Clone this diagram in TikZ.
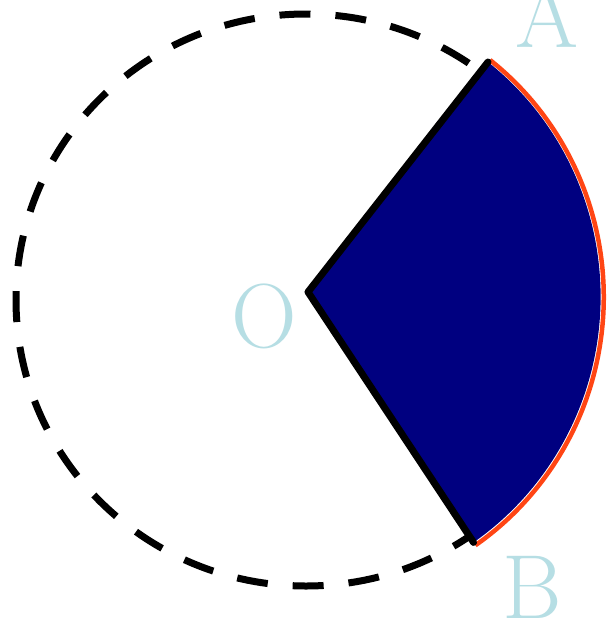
\documentclass[tikz,border=0pt]{standalone}
\begin{document}
\begin{tikzpicture}[x=1pt,y=-1pt,
  circ/.style={draw=black,line width=7pt,dash pattern=on 31pt off 25pt},
  sectorfill/.style={fill=navyblue,draw=none},
  radius line/.style={draw=black,line width=7pt,line cap=round,line join=round},
  arcline/.style={draw=arcorange,line width=4.5pt},
  lbl/.style={text=lblblue,inner sep=0pt,anchor=base,font=\fontsize{91}{91}\selectfont}]
\definecolor{navyblue}{RGB}{0,0,128}
\definecolor{arcorange}{RGB}{255,69,20}
\definecolor{lblblue}{RGB}{182,222,228}
\useasboundingbox (0,0) rectangle (613,622);
\fill[white] (0,0) rectangle (613,622);
\coordinate (C) at (306,300);
\coordinate (O) at (308,292);
\coordinate (A) at (488,62);
\coordinate (A2) at (490,60);
\draw[circ] (C) ellipse [x radius=290pt, y radius=286pt];
\path[sectorfill] (O) -- (A) arc[start angle=52, end angle=-55.5, x radius=293pt, y radius=298pt] coordinate (B) -- cycle;
\draw[arcline] (A2) arc[start angle=52, end angle=-55.5, x radius=296pt, y radius=301pt];
\draw[radius line] (A) -- (O) -- (B);
\node[lbl] (la) at (547,47) {A};
\node[lbl] (lb) at (532,618) {B};
\node[lbl] (lo) at (264,347) {O};
\end{tikzpicture}
\end{document}
